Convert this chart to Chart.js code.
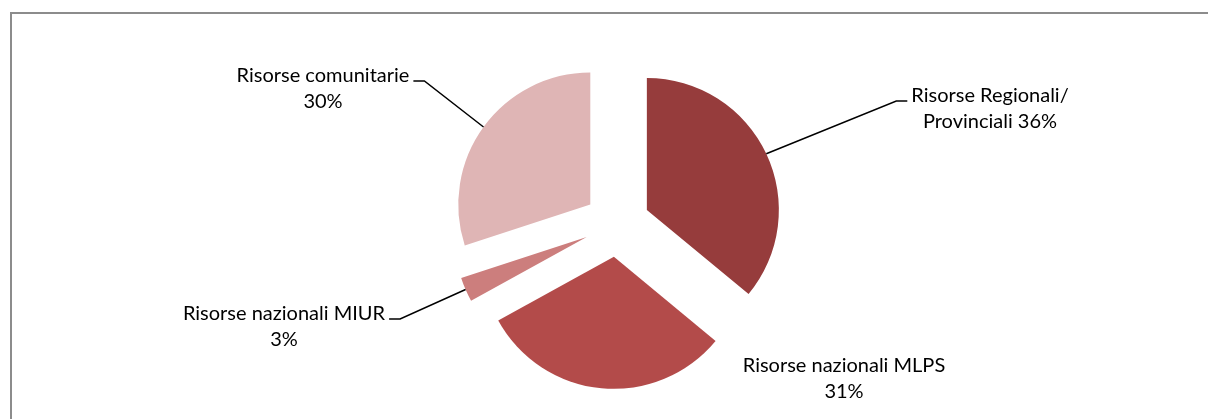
<!DOCTYPE html>
<html>
<head>
<meta charset="utf-8">
<script src="https://cdn.jsdelivr.net/npm/chart.js@4.4.0/dist/chart.umd.min.js"></script>
<style>
  html, body { margin: 0; padding: 0; background: #fff; overflow: hidden; }
  #wrap { position: relative; width: 1208px; height: 419px; overflow: hidden; }
  #frame { position: absolute; left: 10px; top: 12px; width: 1220px; height: 430px; border: 2px solid #8c8c8c; }
  #wrap canvas { position: absolute; left: 0; top: 0; }
</style>
</head>
<body>
<div id="wrap">
  <div id="frame"></div>
  <canvas id="pie" width="1208" height="419"></canvas>
</div>
<script>
// funding sources, clockwise from 12 o'clock
const categories = [
  ["Risorse Regionali/", "Provinciali"],
  ["Risorse nazionali MLPS"],
  ["Risorse nazionali MIUR"],
  ["Risorse comunitarie"]
];
const shares = [36, 31, 3, 30];
const sliceColors = ["#963c3c", "#b34b4a", "#cc7e7d", "#dfb5b5"];

// where each label sits: centre x, baseline of first line, side the leader leaves from
const labelPlaces = [
  {x: 990, y: 102, leader: "left"},
  {x: 844, y: 372, leader: null},
  {x: 284, y: 320, leader: "right"},
  {x: 323, y: 82, leader: "right"}
];
const LABEL_FONT = "20px Lato";
const LINE_GAP = 26;
const EXPLODE = 33;

// arc that is pushed out along its mid angle without growing its radius
class ExplodedArc extends Chart.ArcElement {
  draw(ctx) {
    const opts = this.options;
    const shift = opts.offset || 0;
    const mid = (this.startAngle + this.endAngle) / 2;
    ctx.save();
    ctx.translate(Math.cos(mid) * shift, Math.sin(mid) * shift);
    this.options = Object.assign({}, opts, {offset: 0});
    super.draw(ctx);
    this.options = opts;
    ctx.restore();
  }
}
ExplodedArc.id = "explodedArc";
ExplodedArc.defaults = Chart.ArcElement.defaults;
Chart.register(ExplodedArc);
Chart.defaults.datasets.pie.dataElementType = "explodedArc";

function labelLines(i) {
  const lines = categories[i].slice();
  const pct = shares[i] + "%";
  if (lines.length > 1) lines[lines.length - 1] += " " + pct;
  else lines.push(pct);
  return lines;
}

const sliceLabels = {
  id: "sliceLabels",
  afterDatasetsDraw(chart) {
    const ctx = chart.ctx;
    const arcs = chart.getDatasetMeta(0).data;
    ctx.save();
    ctx.font = LABEL_FONT;
    ctx.fillStyle = "#000";
    ctx.strokeStyle = "#000";
    ctx.lineWidth = 1.5;
    ctx.textAlign = "center";
    ctx.textBaseline = "alphabetic";
    arcs.forEach((arc, i) => {
      const place = labelPlaces[i];
      const lines = labelLines(i);
      lines.forEach((t, k) => ctx.fillText(t, place.x, place.y + k * LINE_GAP));
      if (!place.leader) return;

      const w = ctx.measureText(lines[0]).width;
      const mid = (arc.startAngle + arc.endAngle) / 2;
      const r = arc.outerRadius + arc.options.offset;
      const ax = arc.x + Math.cos(mid) * r;
      const ay = arc.y + Math.sin(mid) * r;
      const dir = place.leader === "left" ? -1 : 1;
      const edge = place.x + dir * w / 2;
      ctx.beginPath();
      ctx.moveTo(edge + dir * 4, place.y - 1);
      ctx.lineTo(edge + dir * 15, place.y - 1);
      ctx.lineTo(ax, ay);
      ctx.stroke();
    });
    ctx.restore();
  }
};

new Chart(document.getElementById("pie"), {
  type: "pie",
  data: {
    labels: categories.map(c => c.join(" ")),
    datasets: [{
      data: shares,
      backgroundColor: sliceColors,
      borderWidth: 0,
      offset: EXPLODE,
      radius: 132
    }]
  },
  options: {
    responsive: false,
    animation: false,
    events: [],
    layout: {padding: {left: 26, right: 0, top: 29, bottom: 0}},
    plugins: {
      legend: {display: false},
      tooltip: {enabled: false},
      title: {display: false}
    }
  },
  plugins: [sliceLabels]
});
</script>
</body>
</html>
